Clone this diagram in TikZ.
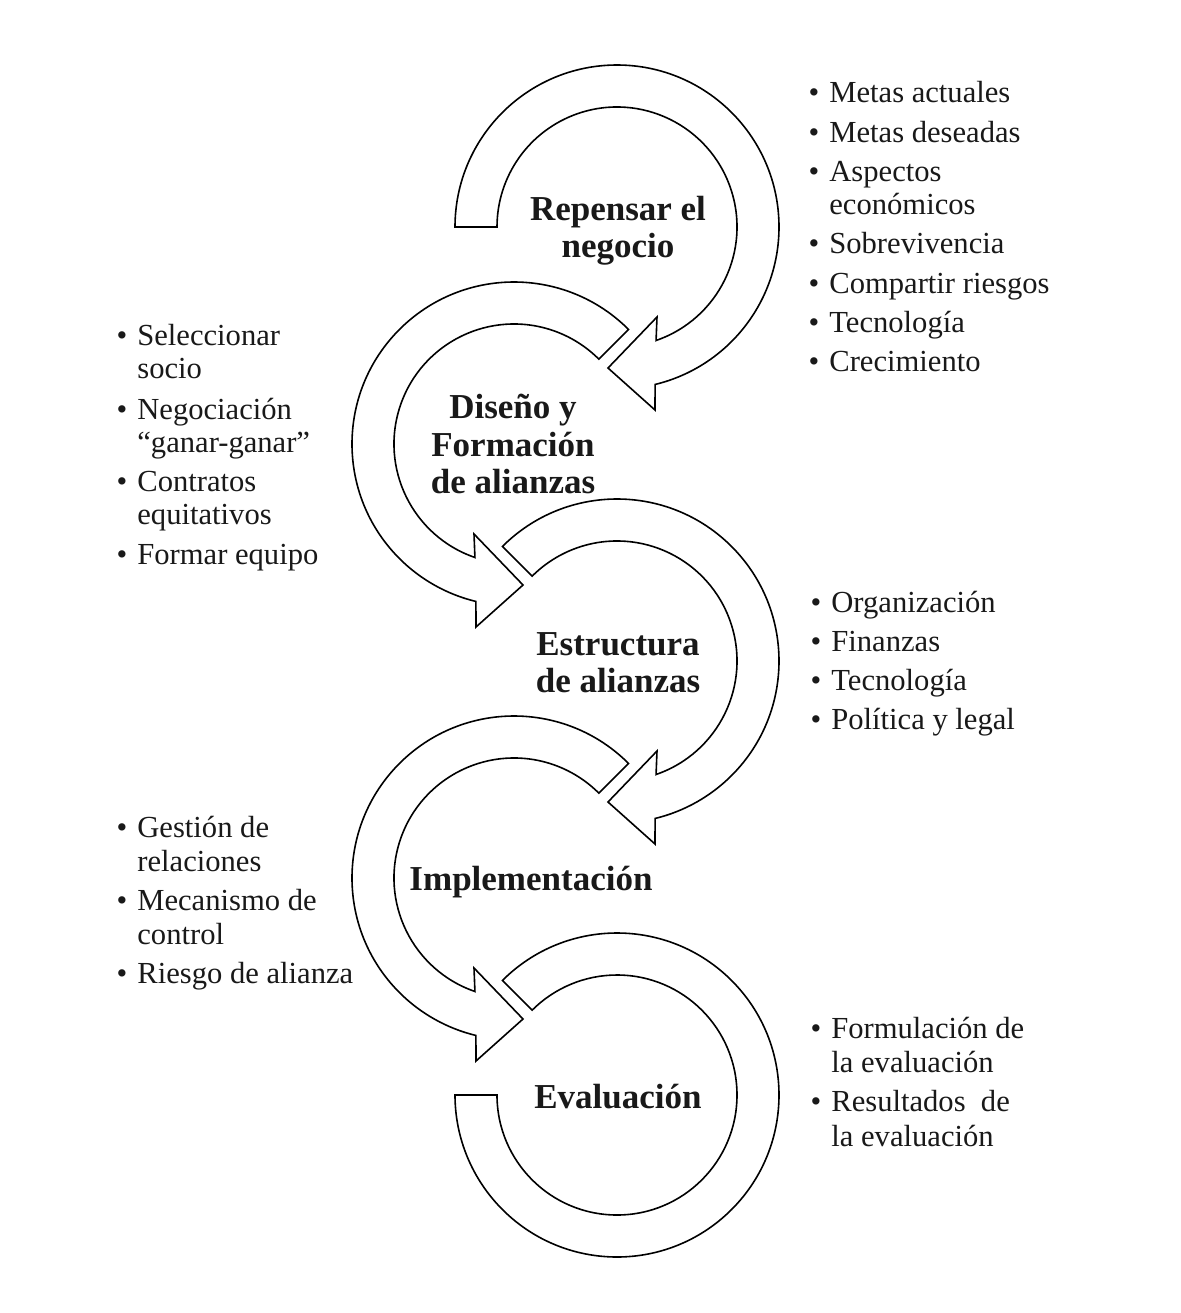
\documentclass[tikz,border=0pt]{standalone}
\usepackage{fontspec}
\setmainfont{Liberation Serif}
\usetikzlibrary{calc}
\tikzset{
  band/.style={draw=black, fill=white, line width=0.8pt, line join=miter},
  item/.style={inner sep=0pt, anchor=base west, font=\fontsize{15.3}{16.5}\selectfont, text=black!90},
  stage/.style={inner sep=0pt, anchor=base, font=\fontsize{17.5}{18.5}\selectfont\bfseries, text=black!90}
}
\newcommand\arrowR[3]{%
  \draw[band] ($(#1,#2)+(#3:162)$) arc[start angle=#3, end angle=436.4, radius=162]
    -- ($(#1,#2)+(38,183)$) -- ($(#1,#2)+(-9,141)$) -- ($(#1,#2)+(40,90)$)
    -- ($(#1,#2)+(431:120)$) arc[start angle=431, end angle=#3, radius=120] -- cycle;}
\newcommand\arrowL[2]{%
  \draw[band] ($(#1,#2)+(315:162)$) arc[start angle=315, end angle=103.6, radius=162]
    -- ($(#1,#2)+(-38,183)$) -- ($(#1,#2)+(9,141)$) -- ($(#1,#2)+(-40,90)$)
    -- ($(#1,#2)+(109:120)$) arc[start angle=109, end angle=315, radius=120] -- cycle;}
\newcommand\itm[4]{\node[item] (#1) at (#2,#3) {\llap{\textbullet\hspace{5pt}}#4};}
\newcommand\cnt[4]{\node[item] (#1) at (#2,#3) {#4};}
\begin{document}
\begin{tikzpicture}[x=0.5pt, y=-0.5pt]
\useasboundingbox (0,0) rectangle (1181,1313);
\fill[white] (0,0) rectangle (1181,1313);

% curved arrows
\arrowR{617}{227}{180}
\arrowL{514}{444}
\arrowR{617}{661}{225}
\arrowL{514}{878}
\draw[band] ($(617,1095)+(225:162)$) arc[start angle=225, end angle=540, radius=162]
  -- ($(617,1095)+(540:120)$) arc[start angle=540, end angle=225, radius=120] -- cycle;

% stage labels
\node[stage] (s1a) at (618,220) {Repensar el};
\node[stage] (s1b) at (618,257) {negocio};
\node[stage] (s2a) at (513,418) {Diseño y};
\node[stage] (s2b) at (513,456) {Formación};
\node[stage] (s2c) at (513,493) {de alianzas};
\node[stage] (s3a) at (618,655) {Estructura};
\node[stage] (s3b) at (618,692) {de alianzas};
\node[stage] (s4a) at (531,890) {Implementación};
\node[stage] (s5a) at (618,1108) {Evaluación};

% list 1
\itm{a1}{829}{102}{Metas actuales}
\itm{a2}{829}{142}{Metas deseadas}
\itm{a3}{829}{181}{Aspectos}
\cnt{a3b}{829}{214}{económicos}
\itm{a4}{829}{253}{Sobrevivencia}
\itm{a5}{829}{293}{Compartir riesgos}
\itm{a6}{829}{332}{Tecnología}
\itm{a7}{829}{371}{Crecimiento}

% list 2
\itm{b1}{137}{345}{Seleccionar}
\cnt{b1b}{137}{378}{socio}
\itm{b2}{137}{419}{Negociación}
\cnt{b2b}{137}{452}{“ganar-ganar”}
\itm{b3}{137}{491}{Contratos}
\cnt{b3b}{137}{524}{equitativos}
\itm{b4}{137}{564}{Formar equipo}

% list 3
\itm{c1}{831}{612}{Organización}
\itm{c2}{831}{651}{Finanzas}
\itm{c3}{831}{690}{Tecnología}
\itm{c4}{831}{729}{Política y legal}

% list 4
\itm{d1}{137}{837}{Gestión de}
\cnt{d1b}{137}{871}{relaciones}
\itm{d2}{137}{910}{Mecanismo de}
\cnt{d2b}{137}{944}{control}
\itm{d3}{137}{983}{Riesgo de alianza}

% list 5
\itm{e1}{831}{1038}{Formulación de}
\cnt{e1b}{831}{1072}{la evaluación}
\itm{e2}{831}{1111}{Resultados\ \ de}
\cnt{e2b}{831}{1146}{la evaluación}
\end{tikzpicture}
\end{document}
